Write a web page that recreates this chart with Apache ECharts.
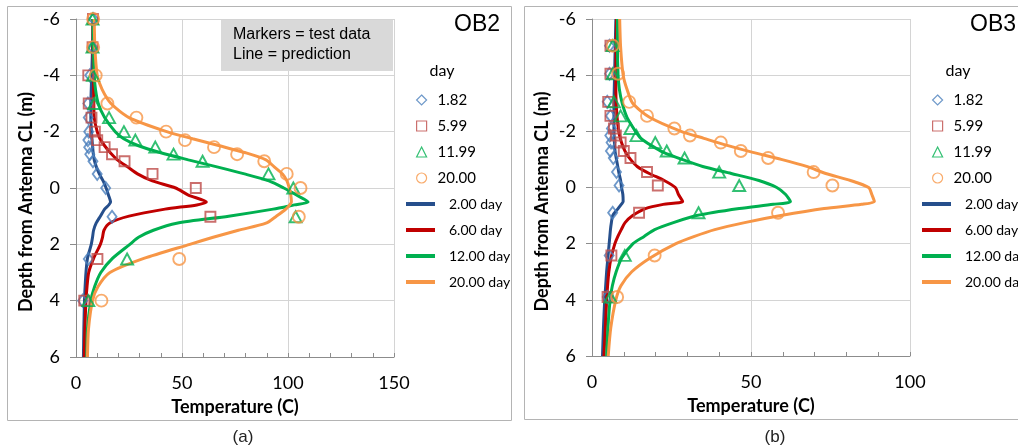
<!DOCTYPE html>
<html>
<head>
<meta charset="UTF-8">
<title>OB2 / OB3 temperature profiles</title>
<script src="https://cdn.jsdelivr.net/npm/echarts@6/dist/echarts.min.js"></script>
<style>
	html, body { margin: 0; padding: 0; background: #fff; }
	#main { width: 1018px; height: 448px; }
</style>
</head>
<body>
<div id="main"></div>
<script type="text/javascript">
// ---- data ----
// predicted lines: one depth grid per panel, temperature per line
var lineDepth = [-6, -5, -4, -3.5, -3, -2.5, -2, -1.75, -1.5, -1.25, -1, -0.75, -0.5, -0.25, 0,
	0.25, 0.5, 0.6, 0.75, 1, 1.25, 1.5, 1.75, 2, 2.5, 3, 3.5, 4, 5, 6];

var ob2Pred2 = [8, 7.8, 7.4, 7.2, 7, 7, 7.3, 7.5, 7.8, 8.1, 8.6, 9.6, 11, 12.8, 14.2,
	15.3, 16.3, 15.5, 13.5, 11.5, 9.5, 8.3, 7.8, 7.2, 5.4, 4.7, 4.3, 4, 3.7, 3.5];
var ob2Pred6 = [8, 8, 8.3, 8.3, 8.4, 8.6, 10, 11.3, 13.5, 16.2, 19.5, 24.3, 29, 36, 47,
	53, 61.5, 57, 42, 25, 15.8, 13.2, 12.5, 11.5, 8.3, 6, 5.2, 4.7, 4.2, 3.9];
var ob2Pred12 = [8, 8.2, 8.6, 9.2, 10.5, 13.5, 18.5, 22.5, 29.5, 40, 53, 66.5, 79.5, 91, 98,
	104, 109.5, 103, 93, 72, 47.5, 36.5, 29.5, 25.4, 17.2, 11.7, 8.8, 7, 5.4, 5.1];
var ob2Pred20 = [8.6, 8.9, 10, 12.3, 16.5, 25, 42.8, 55, 67.7, 80, 89.6, 93.5, 97.4, 99.5, 100.6,
	101.3, 101.6, 100.8, 99, 94.5, 89.6, 76.6, 64.7, 53.7, 32, 16, 10.4, 7.8, 5.9, 5.4];

var ob3Pred2 = [7.5, 7.3, 7.1, 7, 6.9, 6.9, 6.9, 7, 7.1, 7.3, 7.7, 8.1, 8.5, 9, 9.3,
	9.7, 9.8, 9.2, 8.2, 6.5, 6.1, 5.8, 5.6, 5.4, 5, 4.6, 4.3, 4, 3.6, 3.3];
var ob3Pred6 = [7.7, 7.6, 7.5, 7.5, 7.6, 7.9, 8.4, 8.9, 9.6, 10.6, 12.1, 14.2, 18, 22.7, 26.2,
	27.2, 28.5, 22.4, 16.8, 12.8, 10.4, 9.2, 8.1, 7.2, 6, 5.3, 4.9, 4.6, 4.2, 3.75];
var ob3Pred12 = [8, 8, 8.2, 8.6, 9.5, 11, 13.7, 15.4, 18.6, 22.5, 28.3, 34.8, 43.8, 52.5, 58.1,
	60.9, 62.4, 57, 46.3, 32.9, 25.6, 19.7, 16.3, 12.9, 9.4, 7.6, 6.4, 5.7, 5, 4.6];
var ob3Pred20 = [8.7, 9, 9.8, 11, 12.8, 18.1, 28, 35.2, 42.5, 50.6, 59.5, 67.5, 73.5, 81.3, 87,
	88, 88.8, 84.8, 73, 59.4, 48, 38.6, 32, 26.4, 18.4, 12.5, 9.1, 7.5, 5.9, 5.1];

// test data (markers)
var ob2Depth = [-6, -5, -4, -3, -2.5, -2, -1.7, -1.45, -1.2, -0.95, -0.5, 0, 1.02, 2.52, 4];
var ob2Test182 = [8.3, 7.8, 6.5, 5.6, 5.8, 6, 5.6, 6, 6.5, 8, 10, 14, 17, 5.8, 3.1];
var ob2Test599 = [8, 7.8, 5.8, 6, 7.3, 8.9, 10, 13.5, 17, 22.9, 36.1, 56.5, 63.4, 10.1, 3.9];
var ob2Test1199 = [7.8, 7.8, 8, 8.6, 15.6, 22.6, 28, 37.4, 46, 59.7, 90.8, 102.5, 103.6, 24.1, 5.8];
var ob2Test2000 = [8.1, 8.1, 9.3, 14.8, 28.5, 42.5, 51.4, 65.1, 76, 88.8, 99.4, 105.9, 105.1, 48.7, 12];

var ob3Depth = [-5.05, -4.05, -3.05, -2.55, -2.1, -1.85, -1.6, -1.3, -1.05, -0.55, -0.07, 0.9, 2.42, 3.9];
var ob3Test182 = [5.5, 5.5, 4.8, 5.8, 6.1, 5.6, 6, 5.8, 6.7, 7.7, 8.5, 6.5, 5.4, 4.8];
var ob3Test599 = [5.8, 5.8, 5.1, 5.8, 6.9, 7.5, 9, 10, 12.1, 17.3, 20.7, 14.8, 6.1, 4.9];
var ob3Test1199 = [6.5, 6.5, 6.9, 9, 12.1, 14, 19.9, 23.5, 29.1, 40, 46.3, 33.5, 10.3, 5.8];
var ob3Test2000 = [6.5, 8.2, 11.7, 17.3, 25.9, 30.8, 40.5, 46.8, 55.4, 69.7, 75.6, 58.5, 19.7, 7.9];

var testNames = ['1.82', '5.99', '11.99', '20.00'];
var predNames = ['2.00 day', '6.00 day', '12.00 day', '20.00 day'];
var depthTicks = [-6, -4, -2, 0, 2, 4, 6];

// ---- styles ----
var markerColors = ['#4a7ebb', '#be4b48', '#00b050', '#f79646'];
var markerShapes = ['diamond', 'rect', 'triangle', 'circle'];
var markerSizes = [[9, 12], 10, [12, 11], 12];
var lineColors = ['#264f8c', '#c00000', '#00b050', '#f79646'];
var FONT = 'Lato';

function pairs(temps, depths) {
	var out = [];
	for (var i = 0; i < temps.length; i++) {
		out.push([temps[i], depths[i]]);
	}
	return out;
}

var myChart = echarts.init(document.getElementById('main'));

var series = [];
var panels = [
	{ depth: ob2Depth, tests: [ob2Test182, ob2Test599, ob2Test1199, ob2Test2000], preds: [ob2Pred2, ob2Pred6, ob2Pred12, ob2Pred20] },
	{ depth: ob3Depth, tests: [ob3Test182, ob3Test599, ob3Test1199, ob3Test2000], preds: [ob3Pred2, ob3Pred6, ob3Pred12, ob3Pred20] }
];
panels.forEach(function (p, k) {
	p.preds.forEach(function (vals, i) {
		series.push({
			name: predNames[i],
			type: 'line',
			xAxisIndex: k,
			yAxisIndex: k,
			data: pairs(vals, lineDepth),
			showSymbol: false,
			symbol: 'none',
			smooth: 0.25,
			lineStyle: { color: lineColors[i], width: 3 },
			itemStyle: { color: lineColors[i] },
			z: 2
		});
	});
	p.tests.forEach(function (vals, i) {
		series.push({
			name: testNames[i],
			type: 'scatter',
			xAxisIndex: k,
			yAxisIndex: k,
			data: pairs(vals, p.depth),
			symbol: markerShapes[i],
			symbolSize: markerSizes[i],
			itemStyle: { color: 'rgba(255,255,255,0)', borderColor: markerColors[i], borderWidth: 1.9 },
			z: 3
		});
	});
});

function xAxisFor(k, max) {
	return {
		type: 'value',
		gridIndex: k,
		min: 0,
		max: max,
		interval: 50,
		name: 'Temperature (C)',
		nameLocation: 'middle',
		nameGap: 41,
		nameTextStyle: { fontFamily: FONT, fontWeight: 'bold', fontSize: 18, color: '#000' },
		axisLine: { show: true, onZero: false, lineStyle: { color: '#8c8c8c' } },
		axisTick: { show: true, inside: true, length: 4, lineStyle: { color: '#8c8c8c' } },
		minorTick: { show: true, splitNumber: 5, length: 4, lineStyle: { color: '#8c8c8c' } },
		splitLine: { show: true, lineStyle: { color: '#d4d4d4' } },
		axisLabel: { fontFamily: FONT, fontSize: 18, color: '#000', margin: 17 }
	};
}

function yAxisFor(k) {
	return {
		type: 'value',
		gridIndex: k,
		inverse: true,
		min: depthTicks[0],
		max: depthTicks[depthTicks.length - 1],
		interval: 2,
		name: 'Depth from Antenna CL (m)',
		nameLocation: 'middle',
		nameRotate: 90,
		nameGap: 41,
		nameTextStyle: { fontFamily: FONT, fontWeight: 'bold', fontSize: 18, color: '#000', padding: [0, 28, 0, 0] },
		axisLine: { show: true, onZero: false, lineStyle: { color: '#8c8c8c' } },
		axisTick: { show: true, length: 6, lineStyle: { color: '#8c8c8c' } },
		splitLine: { show: true, lineStyle: { color: '#d4d4d4' } },
		axisLabel: { fontFamily: FONT, fontSize: 18, color: '#000', margin: 16 }
	};
}

function markerLegend(left) {
	return {
		orient: 'vertical',
		left: left,
		top: 87,
		itemWidth: 10,
		itemHeight: 10,
		itemGap: 10,
		selectedMode: false,
		textStyle: { fontFamily: FONT, fontSize: 15, color: '#000', lineHeight: 16, padding: [0, 0, 0, 6] },
		data: testNames.map(function (n, i) {
			return {
				name: n,
				icon: markerShapes[i],
				itemStyle: { color: 'rgba(255,255,255,0)', borderColor: markerColors[i], borderWidth: 1.2 }
			};
		})
	};
}

function lineLegend(left) {
	return {
		orient: 'vertical',
		left: left,
		top: 191,
		itemWidth: 29,
		itemHeight: 4,
		itemGap: 10,
		selectedMode: false,
		textStyle: { fontFamily: FONT, fontSize: 14, color: '#000', lineHeight: 16, padding: [0, 0, 0, 9] },
		data: predNames.map(function (n, i) {
			return { name: n, icon: 'rect', itemStyle: { color: lineColors[i] } };
		})
	};
}

myChart.setOption({
	animation: false,
	grid: [
		{ left: 76, top: 19, width: 318, height: 338 },
		{ left: 592, top: 19, width: 318, height: 337 }
	],
	xAxis: [xAxisFor(0, 150), xAxisFor(1, 100)],
	yAxis: [yAxisFor(0), yAxisFor(1)],
	legend: [markerLegend(411), lineLegend(401), markerLegend(927), lineLegend(917)],
	graphic: [
		{ type: 'rect', z: -10, silent: true, shape: { x: 7.5, y: 6.5, width: 504, height: 414 },
			style: { fill: 'none', stroke: '#b4b4b4', lineWidth: 1 } },
		{ type: 'rect', z: -10, silent: true, shape: { x: 524.5, y: 6.5, width: 510, height: 413 },
			style: { fill: 'none', stroke: '#b4b4b4', lineWidth: 1 } },
		{ type: 'rect', z: 10, silent: true, shape: { x: 221, y: 20, width: 172, height: 51 },
			style: { fill: '#d9d9d9' } },
		{ type: 'text', z: 11, silent: true, left: 233, top: 25,
			style: { text: 'Markers = test data\nLine = prediction', font: '16px "Liberation Sans"', lineHeight: 20, fill: '#000' } },
		{ type: 'text', silent: true, x: 477, y: 25,
			style: { text: 'OB2', font: '23px "Liberation Sans"', fill: '#000', align: 'center', verticalAlign: 'middle' } },
		{ type: 'text', silent: true, x: 993, y: 25,
			style: { text: 'OB3', font: '23px "Liberation Sans"', fill: '#000', align: 'center', verticalAlign: 'middle' } },
		{ type: 'text', silent: true, x: 442, y: 71,
			style: { text: 'day', font: '16px Lato', fill: '#000', align: 'center', verticalAlign: 'middle' } },
		{ type: 'text', silent: true, x: 958, y: 71,
			style: { text: 'day', font: '16px Lato', fill: '#000', align: 'center', verticalAlign: 'middle' } },
		{ type: 'text', silent: true, x: 243, y: 437,
			style: { text: '(a)', font: '17px "Liberation Sans"', fill: '#222', align: 'center', verticalAlign: 'middle' } },
		{ type: 'text', silent: true, x: 775, y: 437,
			style: { text: '(b)', font: '17px "Liberation Sans"', fill: '#222', align: 'center', verticalAlign: 'middle' } }
	],
	series: series
});
</script>
</body>
</html>
